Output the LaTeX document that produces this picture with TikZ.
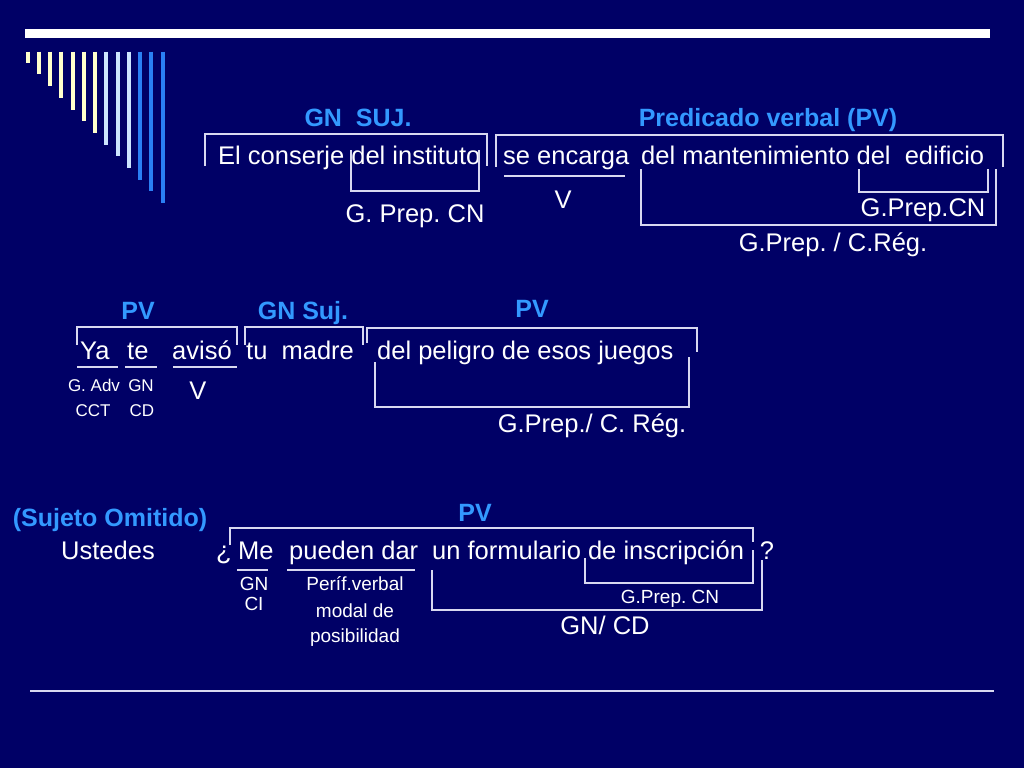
\documentclass[tikz,border=0pt]{standalone}
\usepackage{fontspec}
\setmainfont{Liberation Sans}
\frenchspacing
\definecolor{bg}{HTML}{000066}
\definecolor{hdrblue}{HTML}{3399FF}
\definecolor{linecol}{HTML}{D8D8F0}
\definecolor{cream}{HTML}{FFFFCC}
\definecolor{lblue}{HTML}{CCE4FF}
\definecolor{dblue}{HTML}{2A7FF5}
\tikzset{
  txt/.style={font=\fontsize{25.5}{30}\selectfont, text=white, inner sep=0pt, anchor=base west},
  lbl/.style={font=\fontsize{25.5}{30}\selectfont, text=white, inner sep=0pt, anchor=base},
  hdr/.style={font=\fontsize{25}{30}\selectfont\bfseries, text=hdrblue, inner sep=0pt, anchor=base},
  smallA/.style={font=\fontsize{17}{20}\selectfont, text=white, inner sep=0pt, anchor=base},
  smallB/.style={font=\fontsize{19}{22}\selectfont, text=white, inner sep=0pt, anchor=base},
  brk/.style={draw=linecol, line width=1.2pt},
  bar/.style={line width=4pt},
}
\begin{document}
\begin{tikzpicture}[x=1pt,y=-1pt]
\fill[bg] (0,0) rectangle (1024,768);
\useasboundingbox (0,0) rectangle (1024,768);
% decoration
\fill[white] (25,29) rectangle (990,38);
\foreach \i in {0,...,6} {\draw[bar,cream] ({27.7+11.25*\i},51.7) -- ({27.7+11.25*\i},{62.7+11.7*\i});}
\foreach \i in {7,8,9} {\draw[bar,lblue] ({27.7+11.25*\i},51.7) -- ({27.7+11.25*\i},{62.7+11.7*\i});}
\foreach \i in {10,11,12} {\draw[bar,dblue] ({27.7+11.25*\i},51.7) -- ({27.7+11.25*\i},{62.7+11.7*\i});}
\draw[linecol, line width=2pt] (30,691) -- (994,691);

% ---------- Sentence 1 ----------
\node[hdr] (h1) at (358,126) {GN\ \ SUJ.};
\node[hdr] (h2) at (768,126) {Predicado verbal (PV)};
\node[txt] (s1a) at (218,164) {El conserje del instituto};
\node[txt] (s1b) at (503,164) {se encarga};
\node[txt] (s1c) at (641,164) {del mantenimiento del\ \ edificio};
\draw[brk] (205,166) -- (205,134) -- (487,134) -- (487,166);
\draw[brk] (496,167) -- (496,135) -- (1003,135) -- (1003,167);
\draw[brk] (351,150) -- (351,191) -- (479,191) -- (479,150);
\draw[brk] (504,176) -- (625,176);
\draw[brk] (641,169) -- (641,225) -- (996,225) -- (996,169);
\draw[brk] (859,169) -- (859,192) -- (988,192) -- (988,169);
\node[lbl] (l1a) at (415,222) {G. Prep. CN};
\node[lbl] (l1b) at (563,208) {V};
\node[lbl] (l1c) at (923,216) {G.Prep.CN};
\node[lbl] (l1d) at (833,251) {G.Prep. / C.Rég.};

% ---------- Sentence 2 ----------
\node[hdr] (h3) at (138,319) {PV};
\node[hdr] (h4) at (303,319) {GN Suj.};
\node[hdr] (h5) at (532,317) {PV};
\node[txt] (s2a) at (80,359) {Ya};
\node[txt] (s2b) at (127,359) {te};
\node[txt] (s2c) at (172,359) {avisó};
\node[txt] (s2d) at (246,359) {tu\ \ madre};
\node[txt] (s2e) at (377,359) {del peligro de esos juegos};
\draw[brk] (77,345) -- (77,327) -- (237,327) -- (237,345);
\draw[brk] (245,345) -- (245,327) -- (363,327) -- (363,345);
\draw[brk] (367,343) -- (367,328) -- (697,328) -- (697,352);
\draw[brk] (77,367) -- (118,367);
\draw[brk] (125,367) -- (157,367);
\draw[brk] (173,367) -- (237,367);
\draw[brk] (375,362) -- (375,407) -- (689,407) -- (689,357);
\node[smallA] (l2a) at (94,391) {G. Adv};
\node[smallA] (l2b) at (93,416) {CCT};
\node[smallA] (l2c) at (141,391) {GN};
\node[smallA] (l2d) at (142,416) {CD};
\node[lbl] (l2e) at (198,399) {V};
\node[lbl] (l2f) at (592,432) {G.Prep./ C. Rég.};

% ---------- Sentence 3 ----------
\node[hdr] (h6) at (110,526) {(Sujeto Omitido)};
\node[lbl] (u3) at (108,559) {Ustedes};
\node[hdr] (h7) at (475,521) {PV};
\node[txt] (s3q) at (216,559) {¿};
\node[txt] (s3a) at (238,559) {Me};
\node[txt] (s3b) at (289,559) {pueden dar};
\node[txt] (s3c) at (432,559) {un formulario de inscripción};
\node[lbl] (s3e) at (767,559) {?};
\draw[brk] (230,545) -- (230,528) -- (753,528) -- (753,542);
\draw[brk] (237,570) -- (268,570);
\draw[brk] (287,570) -- (415,570);
\draw[brk] (585,558) -- (585,583) -- (753,583) -- (753,550);
\draw[brk] (432,570) -- (432,610) -- (762,610) -- (762,560);
\node[smallB] (l3a) at (254,590) {GN};
\node[smallB] (l3b) at (254,610) {CI};
\node[smallB] (l3c) at (355,590) {Períf.verbal};
\node[smallB] (l3d) at (355,617) {modal de};
\node[smallB] (l3e) at (355,642) {posibilidad};
\node[smallB] (l3f) at (670,603) {G.Prep. CN};
\node[lbl] (l3g) at (605,634) {GN/ CD};
\end{tikzpicture}
\end{document}
